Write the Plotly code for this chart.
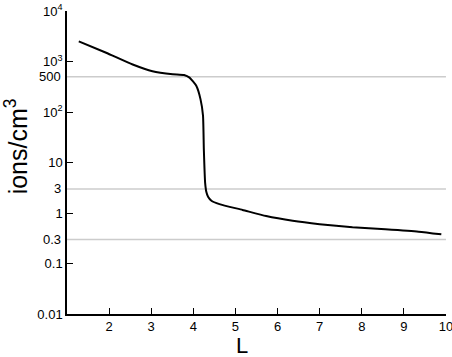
import plotly.graph_objects as go
import math

# Data
L_values = [1.28, 1.93, 2.56, 3.03, 3.51, 3.78, 3.91, 4.07, 4.17, 4.23, 4.25, 4.28,
            4.31, 4.35, 4.43, 4.62, 5.17, 5.73, 6.36, 7.0, 7.78, 8.56, 9.35, 9.89]
density = [2510, 1490, 870, 640, 560, 540, 480, 330, 180, 85, 18, 4.0,
           2.6, 2.1, 1.75, 1.5, 1.15, 0.87, 0.70, 0.60, 0.52, 0.475, 0.427, 0.378]

y_tick_vals = [1e4, 1e3, 1e2, 10, 1, 0.1, 0.01]
y_tick_text = ["10<sup>4</sup>", "10<sup>3</sup>", "10<sup>2</sup>", "10", "1", "0.1", "0.01"]
grid_vals = [500, 3, 0.3]
grid_text = ["500", "3", "0.3"]
x_tick_vals = [2, 3, 4, 5, 6, 7, 8, 9, 10]

FONT = "Liberation Sans, Arial, sans-serif"

fig = go.Figure()
fig.add_trace(go.Scatter(x=L_values, y=density, mode="lines",
                         line=dict(color="black", width=2, shape="spline", smoothing=0.5),
                         showlegend=False))

for v in grid_vals:
    fig.add_shape(type="line", xref="x", yref="y", x0=1, x1=10, y0=v, y1=v,
                  line=dict(color="#cccccc", width=1.5), layer="below")

for v, t in zip(grid_vals, grid_text):
    fig.add_annotation(xref="paper", yref="y", x=0, y=math.log10(v), text=t,
                       showarrow=False, xanchor="right", yanchor="middle", xshift=-4,
                       font=dict(family=FONT, size=13, color="black"))

fig.add_annotation(xref="paper", yref="paper", x=-0.134, y=0.554, text="ions/cm<sup>3</sup>",
                   textangle=-90, showarrow=False, xanchor="center", yanchor="middle",
                   font=dict(family=FONT, size=25, color="black"))
fig.add_annotation(xref="x", yref="paper", x=5.15, y=-0.104, text="L",
                   showarrow=False, xanchor="center", yanchor="middle",
                   font=dict(family=FONT, size=22, color="black"))

fig.update_layout(
    width=452, height=357,
    margin=dict(l=67, r=6, t=11, b=43, autoexpand=False),
    paper_bgcolor="white", plot_bgcolor="white",
    font=dict(family=FONT, color="black"),
    xaxis=dict(range=[1, 10.001], tickvals=x_tick_vals, ticks="inside", ticklen=6,
               tickwidth=1.2, tickcolor="black", showline=True, linecolor="black",
               linewidth=1.5, showgrid=False, zeroline=False, automargin=False,
               ticklabeloverflow="allow",
               tickfont=dict(family=FONT, size=13, color="black")),
    yaxis=dict(type="log", range=[-2, 4], tickvals=y_tick_vals, ticktext=y_tick_text,
               ticks="inside", ticklen=6, tickwidth=1.2, tickcolor="black",
               showline=True, linecolor="black", linewidth=1.5, showgrid=False,
               zeroline=False, automargin=False, ticklabeloverflow="allow",
               tickfont=dict(family=FONT, size=13, color="black")),
)

fig.write_html("out.html", config={"displayModeBar": False},
               post_script="document.body.style.margin='0';document.body.style.overflow='hidden';")
